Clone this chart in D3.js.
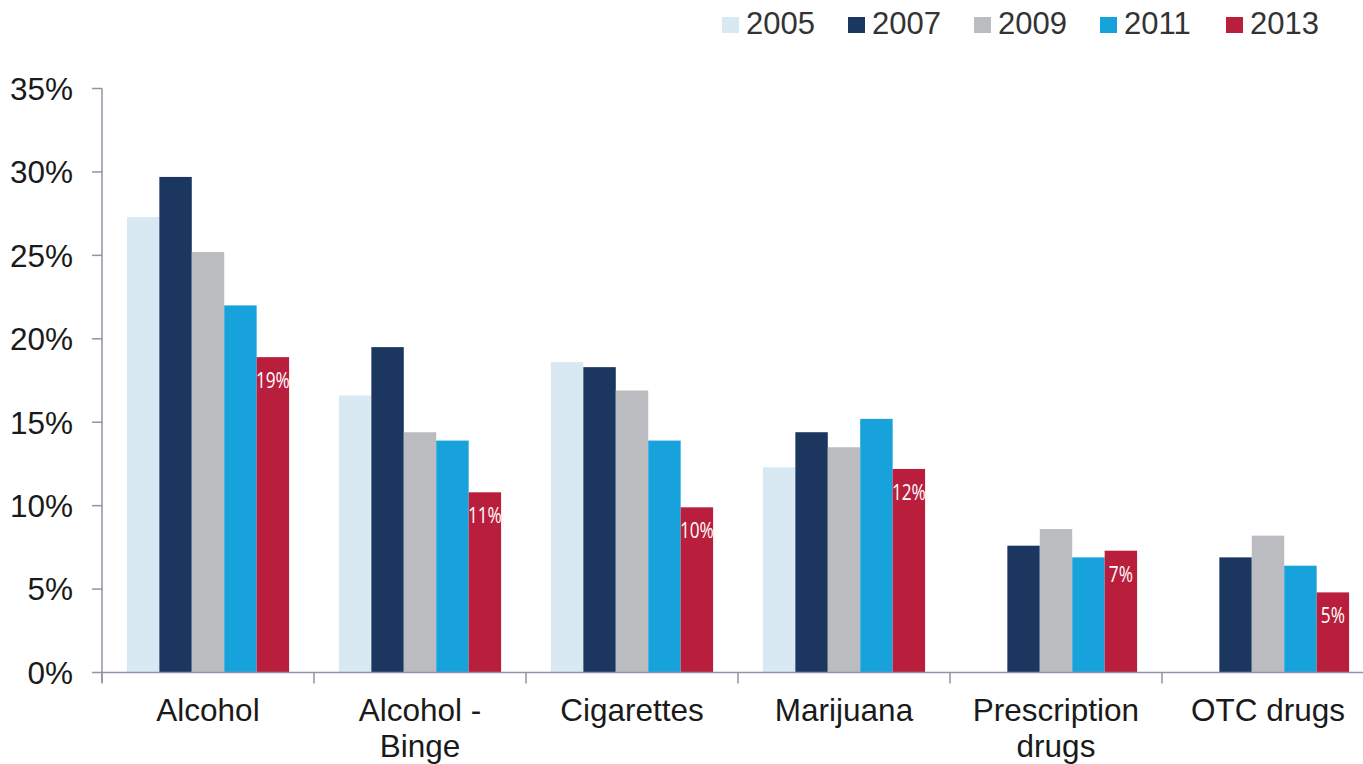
<!DOCTYPE html>
<html><head><meta charset="utf-8">
<script src="https://cdn.jsdelivr.net/npm/d3@7"></script>
<style>body{margin:0;background:#fff}svg{display:block}</style>
</head><body>
<svg id="chart" width="1363" height="764"></svg>
<script>
const categories = [["Alcohol"], ["Alcohol -", "Binge"], ["Cigarettes"], ["Marijuana"], ["Prescription", "drugs"], ["OTC drugs"]];
const years = ["2005", "2007", "2009", "2011", "2013"];
const colors = ["#d9e9f4", "#1b365f", "#bbbcc0", "#17a2dc", "#b91f3c"];
const v2005 = [27.3, 16.6, 18.6, 12.3, null, null];
const v2007 = [29.7, 19.5, 18.3, 14.4, 7.6, 6.9];
const v2009 = [25.2, 14.4, 16.9, 13.5, 8.6, 8.2];
const v2011 = [22.0, 13.9, 13.9, 15.2, 6.9, 6.4];
const v2013 = [18.9, 10.8, 9.9, 12.2, 7.3, 4.8];
const yTicks = [0, 5, 10, 15, 20, 25, 30, 35];

const series = [v2005, v2007, v2009, v2011, v2013];
const svg = d3.select("#chart");
const font = "'Liberation Sans', Arial, sans-serif";
const axisColor = "#8f94a6";
const fs = 31.5;

const catIdx = d3.range(categories.length);
const x = d3.scaleBand().domain(catIdx).range([102, 1374]).paddingInner(0.235).paddingOuter(0.1175);
const xs = d3.scaleBand().domain(years).range([0, x.bandwidth()]);
const y = d3.scaleLinear().domain([0, 35]).range([672.5, 88.5]);

// bars
catIdx.forEach(ci => {
  years.forEach((yr, si) => {
    const val = series[si][ci];
    if (val == null) return;
    svg.append("rect")
      .attr("x", x(ci) + xs(yr))
      .attr("y", y(val))
      .attr("width", xs.bandwidth())
      .attr("height", y(0) - y(val))
      .attr("fill", colors[si]);
  });
  const v = v2013[ci];
  const lbl = svg.append("text")
    .attr("x", x(ci) + xs("2013") + xs.bandwidth() / 2)
    .attr("y", y(v) + 31)
    .attr("text-anchor", "middle")
    .attr("fill", "#fff")
    .attr("font-family", "'Open Sans', sans-serif")
    .attr("font-size", 21)
    .text(Math.round(v) + "%");
  const w = lbl.node().getComputedTextLength();
  lbl.attr("textLength", w * 0.82).attr("lengthAdjust", "spacingAndGlyphs");
});

// y axis
const yAxis = svg.append("g");
yAxis.append("line").attr("x1", 102).attr("x2", 102).attr("y1", y(35)).attr("y2", y(0) + 10)
  .attr("stroke", axisColor).attr("stroke-width", 1.5);
yTicks.forEach(t => {
  yAxis.append("line").attr("x1", 92).attr("x2", 102).attr("y1", y(t)).attr("y2", y(t))
    .attr("stroke", axisColor).attr("stroke-width", 1.5);
  yAxis.append("text").attr("x", 73).attr("y", y(t)).attr("dy", "0.36em")
    .attr("text-anchor", "end").attr("font-family", font).attr("font-size", fs)
    .attr("fill", "#1a1a1a").text(t + "%");
});

// x axis
svg.append("line").attr("x1", 102).attr("x2", 1363).attr("y1", y(0)).attr("y2", y(0))
  .attr("stroke", axisColor).attr("stroke-width", 1.5);
const step = x.step();
catIdx.forEach(ci => {
  const bx = x(ci) - step * x.paddingInner() / 2;
  svg.append("line").attr("x1", bx).attr("x2", bx).attr("y1", y(0)).attr("y2", y(0) + 11)
    .attr("stroke", axisColor).attr("stroke-width", 1.5);
  const cx = x(ci) + x.bandwidth() / 2;
  const t = svg.append("text").attr("text-anchor", "middle").attr("font-family", font)
    .attr("font-size", fs).attr("fill", "#1a1a1a");
  categories[ci].forEach((line, li) => {
    t.append("tspan").attr("x", cx).attr("y", 721 + li * 36).text(line);
  });
});

// legend
years.forEach((yr, i) => {
  const lx = 722 + i * 126;
  svg.append("rect").attr("x", lx).attr("y", 17).attr("width", 17).attr("height", 16).attr("fill", colors[i]);
  svg.append("text").attr("x", lx + 24).attr("y", 34).attr("font-family", font)
    .attr("font-size", 31).attr("fill", "#333").text(yr);
});
</script>
</body></html>
